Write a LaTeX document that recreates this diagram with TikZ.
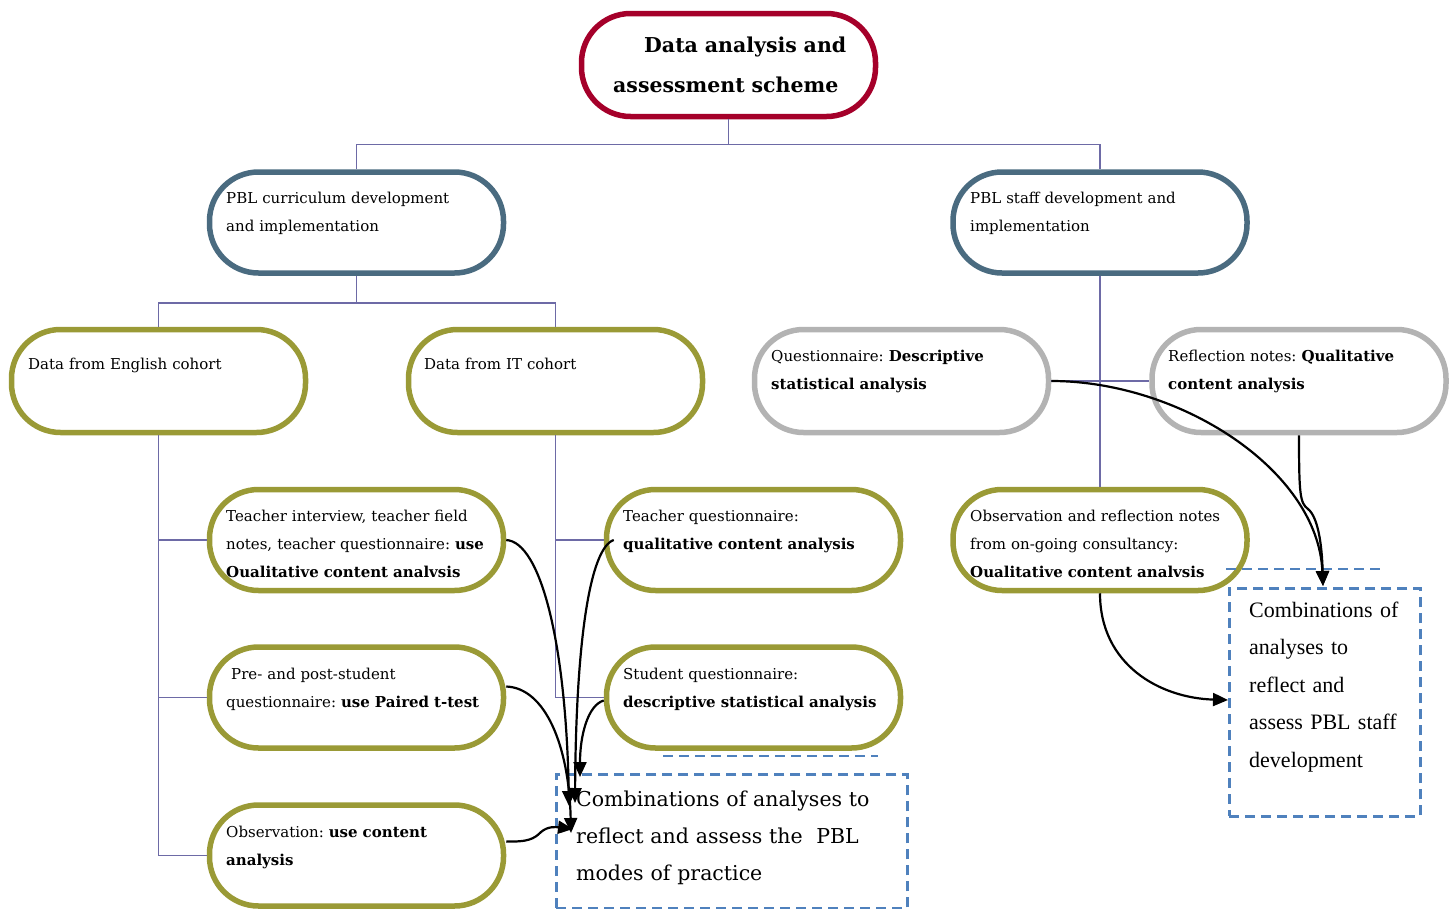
\documentclass[tikz,border=0pt]{standalone}
\usepackage{fontspec}
\setmainfont{DejaVu Serif}
\newfontfamily\boxfont{Liberation Serif}
\usetikzlibrary{arrows.meta}
\frenchspacing

\definecolor{crimsonbd}{HTML}{A5002A}
\definecolor{steelbd}{HTML}{4A6B80}
\definecolor{olivebd}{HTML}{9A9A36}
\definecolor{greybd}{HTML}{B3B3B3}
\definecolor{linkline}{HTML}{6D6AA6}
\definecolor{dashblue}{HTML}{4F81BD}

\tikzset{
  pill/.style={draw, line width=5.5pt, fill=white, rounded corners=49pt,
    minimum width=294pt, minimum height=101pt, inner sep=0pt},
  txt/.style={anchor=base west, align=left, inner sep=0pt, text width=275pt,
    font=\fontsize{15}{28}\selectfont},
  tree/.style={draw=linkline, line width=1.5pt},
  arr/.style={line width=2.2pt, -{Triangle[length=15pt,width=13pt]}},
  dashbox/.style={draw=dashblue, line width=2.5pt, dash pattern=on 10pt off 6pt},
}

\begin{document}
\begin{tikzpicture}[x=1pt,y=-1pt]
\useasboundingbox (0,0) rectangle (1454,908);

% ---- boxes of the scheme ----
\node[pill, draw=crimsonbd, minimum height=103pt] (top) at (728.5,65) {};
\node[pill, draw=steelbd] (pblc) at (356.5,222.5) {};
\node[pill, draw=steelbd] (pbls) at (1100,222.5) {};
\node[pill, draw=olivebd, minimum height=103pt] (eng) at (158.5,381) {};
\node[pill, draw=olivebd, minimum height=103pt] (itc) at (555.5,381) {};
\node[pill, draw=greybd, minimum height=103pt] (qst) at (901.5,381) {};
\node[pill, draw=greybd, minimum height=103pt] (rfl) at (1299,381) {};
\node[pill, draw=olivebd] (ti) at (356.5,540) {};
\node[pill, draw=olivebd] (pp) at (356.5,697.5) {};
\node[pill, draw=olivebd] (ob) at (356.5,855.5) {};
\node[pill, draw=olivebd] (tq) at (753.5,540) {};
\node[pill, draw=olivebd] (sq) at (753.5,697.5) {};
\node[pill, draw=olivebd] (on) at (1100,540) {};

% ---- tree connectors ----
\draw[tree] (top.south) -- ++(0,25) coordinate (t1) -| (pblc.north);
\draw[tree] (t1) -| (pbls.north);
\draw[tree] (pblc.south) -- ++(0,27) coordinate (t2) -| (eng.north);
\draw[tree] (t2) -| (itc.north);
\draw[tree] (pbls.south) -- (on.north);
\draw[tree] (qst.east) -- (rfl.west);
\draw[tree] (eng.south) |- (ti.west);
\draw[tree] (eng.south) |- (pp.west);
\draw[tree] (eng.south) |- (ob.west);
\draw[tree] (itc.south) |- (tq.west);
\draw[tree] (itc.south) |- (sq.west);

% ---- texts ----
\node[anchor=base west, align=left, inner sep=0pt, text width=270pt,
  font=\fontsize{20.5}{40}\selectfont\bfseries] (topt) at (613,52)
  {\hspace*{31pt}Data analysis and\\assessment scheme};
\node[txt] (pblct) at (226,203) {PBL curriculum development\\and implementation};
\node[txt] (pblst) at (970,203) {PBL staff development and\\implementation};
\node[txt] (engt) at (28,369) {Data from English cohort};
\node[txt] (itct) at (424,369) {Data from IT cohort};
\node[txt] (qstt) at (771,361) {Questionnaire: \textbf{Descriptive}\\\textbf{statistical analysis}};
\node[txt] (rflt) at (1168,361) {Reflection notes: \textbf{Qualitative}\\\textbf{content analysis}};
\node[txt] (tit) at (226,521) {Teacher interview, teacher field\\notes, teacher questionnaire: \textbf{use}\\\textbf{Oualitative content analvsis}};
\node[txt] (ppt) at (226,679) {\hspace*{5pt}Pre- and post-student\\questionnaire: \textbf{use Paired t-test}};
\node[txt] (obt) at (226,837) {Observation: \textbf{use content}\\\textbf{analysis}};
\node[txt] (tqt) at (623,521) {Teacher questionnaire:\\\textbf{qualitative content analysis}};
\node[txt] (sqt) at (623,679) {Student questionnaire:\\\textbf{descriptive statistical analysis}};
\node[txt] (ont) at (970,521) {Observation and reflection notes\\from on-going consultancy:\\\textbf{Oualitative content analvsis}};

% ---- combination boxes ----
\node[dashbox, anchor=north west, minimum width=351pt, minimum height=134pt, inner sep=0pt] (modes) at (555,773) {};
\draw[dashbox] (663,756) -- (878,756);
\node[anchor=base west, align=left, inner sep=0pt, text width=330pt,
  font=\fontsize{20.5}{37}\selectfont] (modest) at (576,806)
  {Combinations of analyses to\\reflect and assess the\ \ PBL\\modes of practice};

\node[dashbox, anchor=north west, minimum width=191pt, minimum height=228pt, inner sep=0pt] (staff) at (1228,587) {};
\draw[dashbox] (1226,569) -- (1385,569);
\node[anchor=base west, align=left, inner sep=0pt, text width=170pt,
  font=\boxfont\fontsize{22}{37.5}\selectfont] (stafft) at (1249,617)
  {Combinations of\\analyses to\\reflect and\\assess PBL staff\\development};

% ---- arrows into the combination boxes ----
\coordinate (m1) at (569,806);
\coordinate (m2) at (575,803);
\coordinate (m3) at (571,833);
\coordinate (m4) at (580,777);
\coordinate (m5) at (573,829);
\coordinate (s1) at (1323,586);
\coordinate (s2) at (1228,700);

\draw[arr] (ti.east) .. controls (540,542) and (566,640) .. (m1);
\draw[arr] ([xshift=10pt]tq.west) .. controls (590,548) and (576,640) .. (m2);
\draw[arr] ([yshift=11pt]pp.east) .. controls (545,688) and (569,745) .. (m3);
\draw[arr] ([yshift=-3pt]sq.west) .. controls (588,705) and (580,735) .. (m4);
\draw[arr] ([yshift=14pt]ob.east) .. controls (528,842) and (534,839) .. (541,832)
  .. controls (548,826) and (556,827) .. (m5);

\draw[arr] (qst.east) .. controls (1180,381) and (1318,470) .. (s1);
\draw[arr] (rfl.south) .. controls (1299,495) and (1300,503) .. (1308,509)
  .. controls (1318,517) and (1322,545) .. (s1);
\draw[arr] (on.south) .. controls (1100,665) and (1160,698) .. (s2);
\end{tikzpicture}
\end{document}
